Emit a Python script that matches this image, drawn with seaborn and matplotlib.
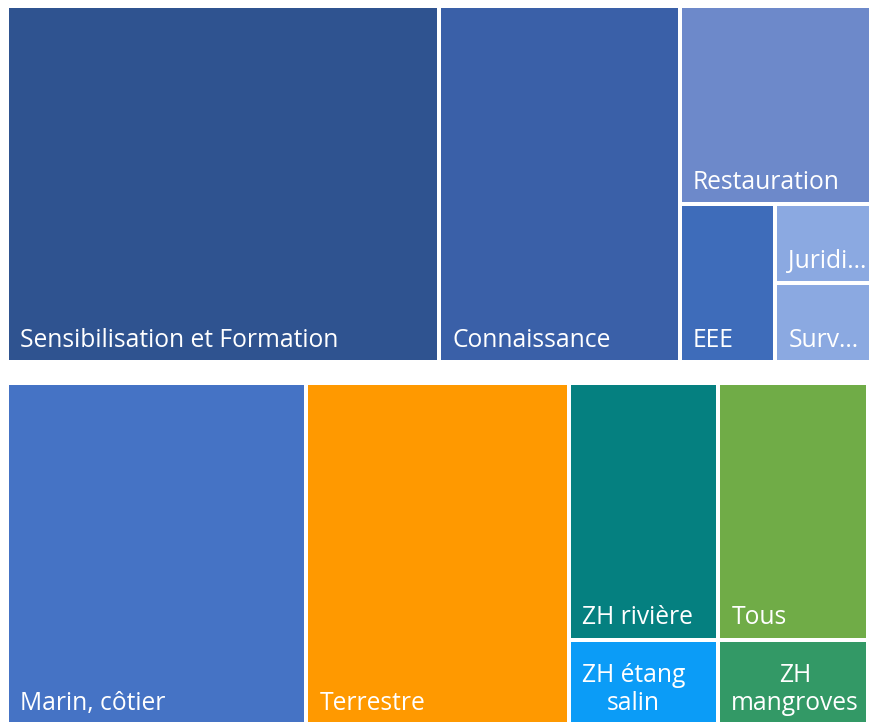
import matplotlib
matplotlib.use("Agg")
import matplotlib.pyplot as plt
import seaborn as sns
from matplotlib.patches import Rectangle

# ---------------- data ----------------
top_labels = ["Sensibilisation et Formation", "Connaissance", "Restauration",
              "EEE", "Juridique", "Surveillance"]
top_values = [61, 34, 15, 6, 3, 3]
top_colors = ["#2F5390", "#3A60A8", "#6D89CA", "#3E6CBA", "#8BA9E1", "#8BA9E1"]

bottom_labels = ["Marin, côtier", "Terrestre", "ZH rivière", "Tous",
                 "ZH étang salin", "ZH mangroves"]
bottom_values = [40, 35, 15, 15, 5, 5]
bottom_colors = ["#4573C5", "#FF9900", "#058080", "#70AC47", "#0B9CF7", "#339966"]

W, H = 877, 722
FONT = ["Open Sans", "DejaVu Sans"]
FS = 17.7
GAP = 2.0
PADX, PADB = 11, 13


def worst(row, length):
    s = sum(row)
    return max(max(length * length * r / (s * s), (s * s) / (length * length * r)) for r in row)


def squarify(values, x, y, w, h):
    total = sum(values)
    areas = [v * w * h / total for v in values]
    rects = []
    i = 0
    while i < len(areas):
        length = min(w, h)
        row = [areas[i]]
        j = i + 1
        while j < len(areas) and worst(row + [areas[j]], length) <= worst(row, length):
            row.append(areas[j])
            j += 1
        s = sum(row)
        if w >= h:
            cw = s / h
            cy = y
            for a in row:
                ch = a / cw
                rects.append((x, cy, cw, ch))
                cy += ch
            x += cw
            w -= cw
        else:
            rh = s / w
            cx = x
            for a in row:
                cwid = a / rh
                rects.append((cx, y, cwid, rh))
                cx += cwid
            y += rh
            h -= rh
        i = j
    return rects


sns.set_theme(style="white")
plt.rcParams["font.family"] = FONT

fig = plt.figure(figsize=(W / 100, H / 100), dpi=100)
ax = fig.add_axes([0, 0, 1, 1])
ax.set_xlim(0, W)
ax.set_ylim(H, 0)
ax.axis("off")
renderer = fig.canvas.get_renderer()


def text_width(s):
    t = ax.text(0, 0, s, fontsize=FS, family=FONT)
    wdt = t.get_window_extent(renderer).width
    t.remove()
    return wdt


def fit_label(label, avail):
    if text_width(label) <= avail:
        return label
    words = label.split()
    if len(words) > 1:
        lines, cur = [], words[0]
        for wd in words[1:]:
            if text_width(cur + " " + wd) <= avail:
                cur = cur + " " + wd
            else:
                lines.append(cur)
                cur = wd
        lines.append(cur)
        if all(text_width(l) <= avail for l in lines):
            return "\n".join(lines)
    s = label
    while len(s) > 1 and text_width(s + "...") > avail:
        s = s[:-1]
    return s + "..."


def draw_treemap(labels, values, colors, region):
    x0, y0, x1, y1 = region
    rects = squarify(values, x0, y0, x1 - x0, y1 - y0)
    for (rx, ry, rw, rh), lab, col in zip(rects, labels, colors):
        ax.add_patch(Rectangle((rx + GAP, ry + GAP), rw - 2 * GAP, rh - 2 * GAP,
                               facecolor=col, edgecolor="none"))
        avail = rw - 2 * GAP - PADX - 1
        txt = fit_label(lab, avail)
        ax.text(rx + GAP + PADX, ry + rh - GAP - PADB, txt, color="white",
                fontsize=FS, family=FONT, ha="left", va="baseline",
                multialignment="center", linespacing=1.15)


draw_treemap(top_labels, top_values, top_colors, (7, 6, 871, 362))
draw_treemap(bottom_labels, bottom_values, bottom_colors, (7, 383, 868, 725))

fig.savefig("out.png", dpi=100, facecolor="white")
